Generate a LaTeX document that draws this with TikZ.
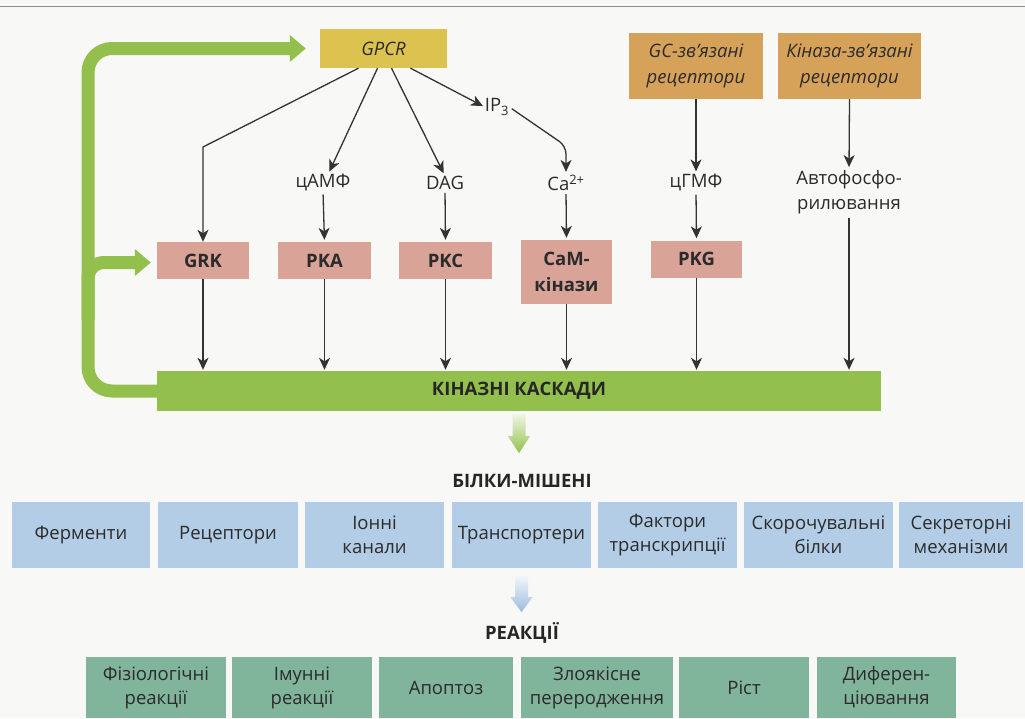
\documentclass[tikz,border=0pt]{standalone}
\usepackage{fontspec}
\setmainfont{Open Sans}
\usetikzlibrary{arrows.meta,calc}
\definecolor{cGPCR}{HTML}{DCC24E}
\definecolor{cRec}{HTML}{D6A25A}
\definecolor{cKin}{HTML}{D9A398}
\definecolor{cBar}{HTML}{93C04C}
\definecolor{cBlue}{HTML}{B4CDE6}
\definecolor{cArrB}{HTML}{9DBCDD}
\definecolor{cGreen}{HTML}{80B59B}
\definecolor{cTxt}{HTML}{2B2B2B}
\definecolor{cBg}{HTML}{F8F8F6}
\tikzset{
  lbl/.style={font=\fontsize{18.5}{25}\selectfont, text=cTxt, inner sep=0pt, align=center},
  gpcrbox/.style={lbl, fill=cGPCR, minimum width=127pt, minimum height=39pt, font=\fontsize{18.5}{22}\selectfont\itshape},
  recbox/.style={lbl, fill=cRec, minimum height=66pt, font=\fontsize{18.5}{26}\selectfont\itshape},
  kinbox/.style={lbl, fill=cKin, minimum height=37pt, font=\fontsize{18.5}{26}\selectfont\bfseries},
  barbox/.style={lbl, fill=cBar, minimum width=724pt, minimum height=40pt, font=\fontsize{18.5}{22}\selectfont\bfseries, text=black!85},
  headlbl/.style={lbl, font=\fontsize{18.5}{22}\selectfont\bfseries, text=black!85},
  bluebox/.style={lbl, fill=cBlue, minimum height=66pt, font=\fontsize{18.5}{23.5}\selectfont},
  greenbox/.style={lbl, fill=cGreen, minimum height=61pt, font=\fontsize{18.5}{24}\selectfont},
  arr/.style={draw=black!80, line width=1.3pt, -{Stealth[length=12pt,width=11pt,inset=3.5pt]}},
  gline/.style={draw=cBar, line width=13pt, -{Triangle[length=16pt,width=26pt]}}
}
\begin{document}
\begin{tikzpicture}[x=1pt,y=-1pt]
\fill[cBg] (0,0) rectangle (1025,718);
\useasboundingbox (0,0) rectangle (1025,718);
\draw[black!45, line width=1pt] (0,6) -- (1025,6);

% receptors
\node[gpcrbox] (gpcr) at (383.5,48.5) {GPCR};
\node[recbox, minimum width=134pt] (gc) at (696,66) {GC-зв’язані\\рецептори};
\node[recbox, minimum width=143pt] (kr) at (849.5,66) {Кіназа-зв’язані\\рецептори};

% second messengers
\node[lbl] (camp) at (323,183) {цАМФ};
\node[lbl] (dag) at (445,183) {DAG};
\node[lbl] (ip3) at (497,107) {IP\textsubscript{3}};
\node[lbl] (ca) at (566,183) {Ca\textsuperscript{2+}};
\node[lbl] (cgmp) at (696,183) {цГМФ};
\node[lbl] (auto) at (849,192) {Автофосфо-\\рилювання};

% kinases
\node[kinbox, minimum width=92pt] (grk) at (203,260.5) {GRK};
\node[kinbox, minimum width=93pt] (pka) at (324.5,260.5) {PKA};
\node[kinbox, minimum width=93pt] (pkc) at (445.5,260.5) {PKC};
\node[kinbox, minimum width=91pt, minimum height=64pt] (cam) at (566.5,272) {CaM-\\кінази};
\node[kinbox, minimum width=91pt] (pkg) at (696.5,259) {PKG};

% cascade bar
\node[barbox] (bar) at (519,391) {КІНАЗНІ КАСКАДИ};

% headings
\node[headlbl] (targets) at (522,481) {БІЛКИ-МІШЕНІ};
\node[headlbl] (reac) at (522,633) {РЕАКЦІЇ};

% target proteins
\node[bluebox, minimum width=138pt] (t1) at (81,535) {Ферменти};
\node[bluebox, minimum width=140pt] (t2) at (228,535) {Рецептори};
\node[bluebox, minimum width=139pt] (t3) at (374.5,535) {Іонні\\канали};
\node[bluebox, minimum width=139pt] (t4) at (521.5,535) {Транспортери};
\node[bluebox, minimum width=139pt] (t5) at (667.5,535) {Фактори\\транскрипції};
\node[bluebox, minimum width=149pt] (t6) at (818.5,535) {Скорочувальні\\білки};
\node[bluebox, minimum width=124pt] (t7) at (961,535) {Секреторні\\механізми};

% reactions
\node[greenbox, minimum width=140pt] (r1) at (156,687.5) {Фізіологічні\\реакції};
\node[greenbox, minimum width=140pt] (r2) at (302,687.5) {Імунні\\реакції};
\node[greenbox, minimum width=134pt] (r3) at (446,687.5) {Апоптоз};
\node[greenbox, minimum width=152pt] (r4) at (597,687.5) {Злоякісне\\переродження};
\node[greenbox, minimum width=130pt] (r5) at (744,687.5) {Ріст};
\node[greenbox, minimum width=139pt] (r6) at (886.5,687.5) {Диферен-\\ціювання};

% helper coordinates
\coordinate (bend1) at (203,147);
\coordinate (cab) at (566,146);
\coordinate (lc1) at (88,391);
\coordinate (lc2) at (88,48.5);
\coordinate (br) at (88,320);

% connectors from GPCR
\draw[arr] ($(gpcr.south)+(-25,0)$) -- (bend1) -- (grk.north);
\draw[arr, shorten >=3pt] ($(gpcr.south)+(-6,0)$) -- ($(camp.north)+(5,0)$);
\draw[arr, shorten >=3pt] ($(gpcr.south)+(8,0)$) -- (dag.north);
\draw[arr, shorten >=2pt] ($(gpcr.south)+(27,0)$) -- (ip3.west);
\draw[arr, rounded corners=8, shorten <=3pt, shorten >=3pt] (ip3.east) -- (cab) -- (ca.north);
\draw[arr, shorten <=3pt, shorten >=2pt] (camp.south) -- (pka.north);
\draw[arr, shorten <=3pt, shorten >=2pt] (dag.south) -- (pkc.north);
\draw[arr, shorten <=3pt, shorten >=2pt] (ca.south) -- (cam.north);
\draw[arr, shorten >=3pt] (gc.south) -- (cgmp.north);
\draw[arr, shorten <=3pt, shorten >=2pt] (cgmp.south) -- (pkg.north);
\draw[arr, shorten >=3pt] (kr.south) -- (auto.north);

% to kinase cascades
\draw[arr, shorten >=1pt] (grk.south) -- (grk.south |- bar.north);
\draw[arr, shorten >=1pt] (pka.south) -- (pka.south |- bar.north);
\draw[arr, shorten >=1pt] (pkc.south) -- (pkc.south |- bar.north);
\draw[arr, shorten >=1pt] (cam.south) -- (cam.south |- bar.north);
\draw[arr, shorten >=1pt] (pkg.south) -- (pkg.south |- bar.north);
\draw[arr, shorten <=4pt, shorten >=1pt] (auto.south) -- (auto.south |- bar.north);

% green feedback loop
\draw[gline, rounded corners=24] ($(bar.west)+(4,0)$) -- (lc1) -- (lc2) -- ($(gpcr.west)+(-14,0)$);
\draw[gline, rounded corners=16] (br) |- ($(grk.west)+(-6,2)$);

% shaded down arrows
\shade[top color=cBar!15, bottom color=cBar]
  ($(bar.south)+(-6.5,3)$) -- ($(bar.south)+(6.5,3)$) -- ($(bar.south)+(6.5,25)$) --
  ($(bar.south)+(11,25)$) -- ($(bar.south)+(0,42)$) -- ($(bar.south)+(-11,25)$) --
  ($(bar.south)+(-6.5,25)$) -- cycle;
\shade[top color=cArrB!15, bottom color=cArrB]
  ($(t4.south)+(-6.5,8)$) -- ($(t4.south)+(6.5,8)$) -- ($(t4.south)+(6.5,29)$) --
  ($(t4.south)+(11,29)$) -- ($(t4.south)+(0,44)$) -- ($(t4.south)+(-11,29)$) --
  ($(t4.south)+(-6.5,29)$) -- cycle;
\end{tikzpicture}
\end{document}
